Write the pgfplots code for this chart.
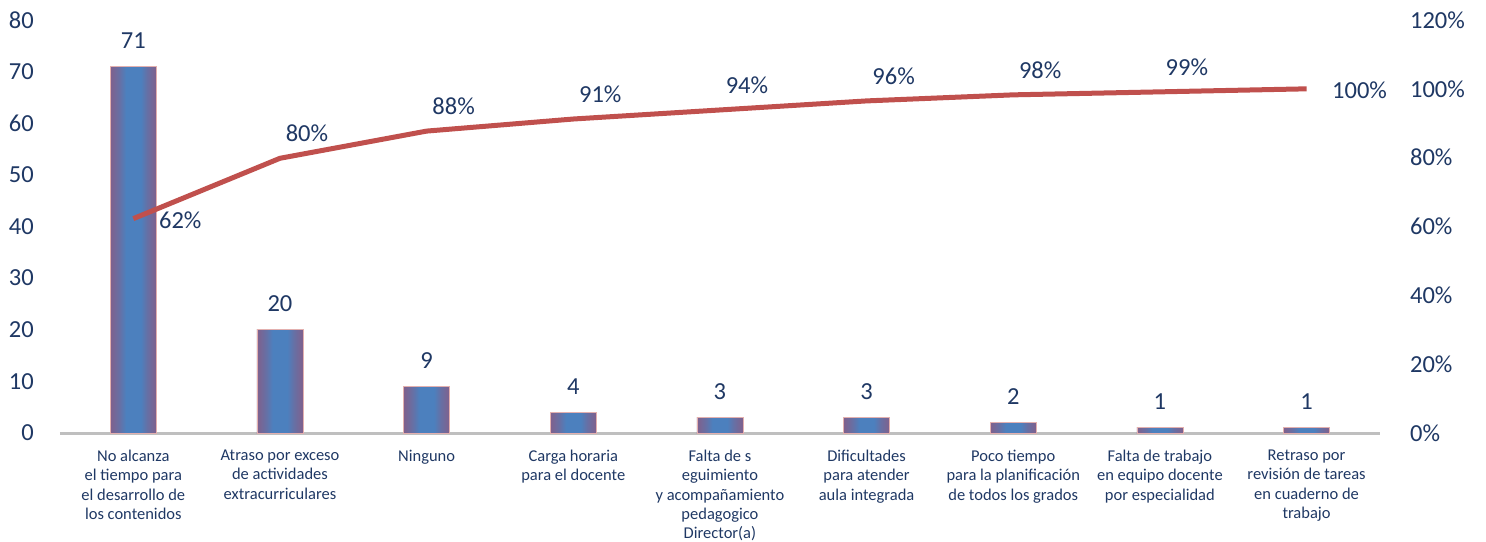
\documentclass[border=0pt]{standalone}
\usepackage{pgfplots}
\pgfplotsset{compat=1.18}
\usepackage{pgfplotstable}
\usepackage{fontspec}
\setmainfont{Carlito}
\definecolor{navy}{RGB}{31,56,100}
\definecolor{barblue}{RGB}{76,128,190}
\definecolor{baredge}{RGB}{128,96,140}
\definecolor{linered}{RGB}{192,80,77}
\definecolor{axisgray}{RGB}{191,191,191}
\pgfdeclarehorizontalshading{barshade}{100bp}{color(0bp)=(baredge); color(25bp)=(baredge); color(35bp)=(baredge!50!barblue); color(42bp)=(barblue); color(58bp)=(barblue); color(65bp)=(baredge!50!barblue); color(75bp)=(baredge); color(100bp)=(baredge)}

\pgfplotstableread{
x n cum
0 71 62.28
1 20 79.82
2 9 87.72
3 4 91.23
4 3 93.86
5 3 96.49
6 2 98.25
7 1 99.12
8 1 100
}\datos

\begin{document}
\begin{tikzpicture}
\path[use as bounding box] (-60pt,-108pt) rectangle (1426pt,433pt);
\pgfplotsset{
  common/.style={
    scale only axis, width=1320pt, height=413pt,
    xmin=-0.5, xmax=8.5,
    major tick length=0pt,
    tick label style={font=\fontsize{24.5}{28}\selectfont, text=navy},
    /pgf/number format/assume math mode=true,
  }
}
\begin{axis}[common,
  ymin=0, ymax=80, ytick={0,10,...,80},
  axis x line*=bottom, axis y line*=left,
  x axis line style={-, axisgray, line width=3pt},
  y axis line style={draw=none},
  xtick={0,...,8},
  xticklabels={
    {No alcanza\\el tiempo para\\el desarrollo de\\los contenidos},
    {Atraso por exceso\\de actividades\\extracurriculares},
    {Ninguno},
    {Carga horaria\\para el docente},
    {Falta de s\\eguimiento\\y acompañamiento\\pedagogico\\Director(a)},
    {Dificultades\\para atender\\aula integrada},
    {Poco tiempo\\para la planificación\\de todos los grados},
    {Falta de trabajo\\en equipo docente\\por especialidad},
    {Retraso por\\revisión de tareas\\en cuaderno de\\trabajo}},
  x tick label style={font=\fontsize{16.5}{19.2}\selectfont, text=navy, align=center, anchor=north, inner sep=0pt, yshift=-17pt},
  y tick label style={anchor=east, inner sep=0pt, xshift=-26pt},
]
\pgfplotsinvokeforeach{0,...,8}{
\addplot[ybar, bar width=46pt, bar shift=0pt, draw=linered!45, line width=0.8pt,
  shade, shading=barshade,
  restrict x to domain=#1:#1,
  nodes near coords,
  nodes near coords style={font=\fontsize{24.5}{28}\selectfont, text=navy, anchor=center, yshift=26pt}]
  table[x=x, y=n] {\datos};
}
\end{axis}
\begin{axis}[common,
  ymin=0, ymax=120, ytick={0,20,...,120},
  axis x line=none, axis y line*=right,
  y axis line style={draw=none},
  yticklabel={\pgfmathprintnumber{\tick}\%},
  y tick label style={anchor=west, inner sep=0pt, xshift=30pt},
]
\addplot[linered, line width=5pt, line join=round, no marks] table[x=x, y=cum] {\datos};
\addplot[draw=none, no marks, restrict x to domain=1:7,
  nodes near coords={\pgfmathprintnumber[fixed,precision=0]{\pgfplotspointmeta}\%},
  point meta=y,
  nodes near coords style={font=\fontsize{24.5}{28}\selectfont, text=navy, anchor=center, xshift=27pt, yshift=25pt}]
  table[x=x, y=cum] {\datos};
\addplot[draw=none, no marks, restrict x to domain=0:0,
  nodes near coords={\pgfmathprintnumber[fixed,precision=0]{\pgfplotspointmeta}\%},
  point meta=y,
  nodes near coords style={font=\fontsize{24.5}{28}\selectfont, text=navy, anchor=center, xshift=47pt, yshift=-2pt}]
  table[x=x, y=cum] {\datos};
\addplot[draw=none, no marks, restrict x to domain=8:8,
  nodes near coords={\pgfmathprintnumber[fixed,precision=0]{\pgfplotspointmeta}\%},
  point meta=y,
  nodes near coords style={font=\fontsize{24.5}{28}\selectfont, text=navy, anchor=center, xshift=53pt, yshift=-1pt}]
  table[x=x, y=cum] {\datos};
\end{axis}
\end{tikzpicture}
\end{document}
